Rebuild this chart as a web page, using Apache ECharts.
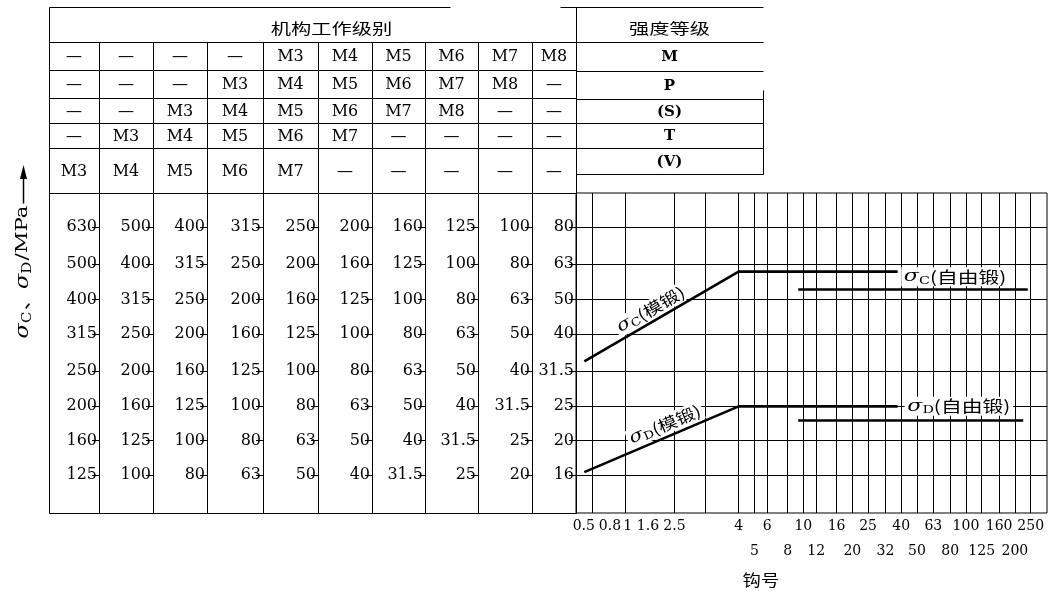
<!DOCTYPE html>
<html>
<head>
<meta charset="utf-8">
<script src="https://cdn.jsdelivr.net/npm/echarts@6.0.0/dist/echarts.min.js"></script>
<style>
html,body{margin:0;padding:0;background:#fff;}
#c{width:1058px;height:591px;}
</style>
</head>
<body>
<div id="c"></div>
<script>
// ================= DATA =================
// Hook numbers (钩号) on the log x axis, upper and lower label rows
const hookRow1 = [0.5, 0.8, 1, 1.6, 2.5, 4, 6, 10, 16, 25, 40, 63, 100, 160, 250];
const hookRow2 = [5, 8, 12, 20, 32, 50, 80, 125, 200];
// Hook numbers that carry a vertical grid line (no line at 1 in the original)
const hookGrid = [0.5, 0.8, 1.6, 2.5, 4, 5, 6, 8, 10, 12, 16, 20, 25, 32, 40, 50, 63, 80, 100, 125, 160, 200, 250];
// Stress levels of the chart rows (right-most scale, MPa)
const stressTicks = [80, 63, 50, 40, 31.5, 25, 20, 16];
// Stress scales of the ten columns (top row -> bottom row)
const col1  = ['630', '500', '400', '315', '250', '200', '160', '125'];
const col2  = ['500', '400', '315', '250', '200', '160', '125', '100'];
const col3  = ['400', '315', '250', '200', '160', '125', '100', '80'];
const col4  = ['315', '250', '200', '160', '125', '100', '80', '63'];
const col5  = ['250', '200', '160', '125', '100', '80', '63', '50'];
const col6  = ['200', '160', '125', '100', '80', '63', '50', '40'];
const col7  = ['160', '125', '100', '80', '63', '50', '40', '31.5'];
const col8  = ['125', '100', '80', '63', '50', '40', '31.5', '25'];
const col9  = ['100', '80', '63', '50', '40', '31.5', '25', '20'];
const col10 = ['80', '63', '50', '40', '31.5', '25', '20', '16'];
// Upper tables
const workHeader = '机构工作级别';
const strengthHeader = '强度等级';
const workRows = [
  ['—', '—', '—', '—', 'M3', 'M4', 'M5', 'M6', 'M7', 'M8'],
  ['—', '—', '—', 'M3', 'M4', 'M5', 'M6', 'M7', 'M8', '—'],
  ['—', '—', 'M3', 'M4', 'M5', 'M6', 'M7', 'M8', '—', '—'],
  ['—', 'M3', 'M4', 'M5', 'M6', 'M7', '—', '—', '—', '—'],
  ['M3', 'M4', 'M5', 'M6', 'M7', '—', '—', '—', '—', '—']
];
const strengthGrades = ['M', 'P', '(S)', 'T', '(V)'];
// Curves [hook number, stress MPa]
const sigmaCDie  = [[0.45, 33.5], [4, 60], [38, 60]];
const sigmaCFree = [[9.3, 53.4], [240, 53.4]];
const sigmaDDie  = [[0.45, 16.3], [4, 25], [38, 25]];
const sigmaDFree = [[9.3, 22.8], [225, 22.8]];
// Curve labels: subscript, name, anchor in data space
const curveNotes = [
  { sub: 'C', name: '(模锻)',   anchor: [1.15, 46.9], along: sigmaCDie },
  { sub: 'D', name: '(模锻)',   anchor: [1.41, 22.2], along: sigmaDDie },
  { sub: 'C', name: '(自由锻)', anchor: [40, 58],     along: null },
  { sub: 'D', name: '(自由锻)', anchor: [42, 25],     along: null }
];
const xTitle = '钩号';

// ================= LAYOUT / STYLE =================
const SERIF = '"DejaVu Serif", "Liberation Serif", serif';
const CJK = '"Noto Sans CJK SC", sans-serif';
const G = { left: 576, right: 1047, top: 193, bottom: 513 };
const colX = [49, 99, 153, 207, 263, 318, 372, 425, 478, 532, 576];
const workRowY = [42, 70, 98, 123, 148, 193];
const strengthRowY = [42, 71, 99, 123, 148, 174];
const tableTop = 7, strengthRight = 763;
const xLabelShift = { '0.5': 8, '0.8': 15, '1': 13, '1.6': 26, '2.5': 31 };

const stressCols = [col1, col2, col3, col4, col5, col6, col7, col8, col9, col10];

function nearestIdx(arr, v) {
  let best = 0, bd = Infinity;
  arr.forEach((a, i) => { const d = Math.abs(Math.log(a) - Math.log(v)); if (d < bd) { bd = d; best = i; } });
  return best;
}

const xRich = { n: { fontSize: 14, fontFamily: SERIF, color: '#000' } };
Object.keys(xLabelShift).forEach((k, i) => {
  xRich['s' + i] = { fontSize: 14, fontFamily: SERIF, color: '#000', padding: [0, 2 * xLabelShift[k], 0, 0] };
});
function xFmt(list) {
  return function (v) {
    const t = String(list[nearestIdx(list, v)]);
    const j = Object.keys(xLabelShift).indexOf(t);
    return j >= 0 ? '{s' + j + '|' + t + '}' : '{n|' + t + '}';
  };
}

const xBase = {
  type: 'log', logBase: 10, min: 0.4, max: 315, position: 'bottom', gridIndex: 0,
  axisLine: { show: false }, axisTick: { show: false },
  splitLine: { show: false }, minorTick: { show: false }, minorSplitLine: { show: false }
};
const xAxes = [
  Object.assign({}, xBase, { axisLabel: { show: true, customValues: hookRow1, margin: 6, formatter: xFmt(hookRow1), rich: xRich, fontSize: 14, fontFamily: SERIF, color: '#000' } }),
  Object.assign({}, xBase, { axisLabel: { show: true, customValues: hookRow2, margin: 31, formatter: xFmt(hookRow2), rich: xRich, fontSize: 14, fontFamily: SERIF, color: '#000' } })
];

const yAxes = stressCols.map((labels, k) => ({
  type: 'log', logBase: 10, min: 12.5, max: 100, position: 'left', gridIndex: 0,
  offset: G.left - colX[k + 1],
  axisLine: { show: true, onZero: false, lineStyle: { color: '#000', width: 1 } },
  axisTick: { show: true, length: 7, customValues: stressTicks, lineStyle: { color: '#000', width: 1 } },
  axisLabel: { show: true, customValues: stressTicks, margin: 2, color: '#000', fontSize: 16, fontFamily: SERIF,
    formatter: v => labels[nearestIdx(stressTicks, v)] },
  splitLine: { show: false }, minorTick: { show: false }, minorSplitLine: { show: false }
}));
const MAINY = stressCols.length - 1;

function curve(data) {
  return { type: 'line', xAxisIndex: 0, yAxisIndex: MAINY, data: data, symbol: 'none', silent: true,
    lineStyle: { color: '#000', width: 2.6 }, z: 5 };
}

const chart = echarts.init(document.getElementById('c'), null, { renderer: 'canvas' });
chart.setOption({
  animation: false,
  backgroundColor: '#fff',
  grid: { left: G.left, right: 1058 - G.right, top: G.top, bottom: 591 - G.bottom,
    show: true, borderColor: '#000', borderWidth: 1, backgroundColor: 'transparent', containLabel: false, outerBoundsMode: 'none' },
  xAxis: xAxes,
  yAxis: yAxes,
  series: [
    { type: 'line', xAxisIndex: 0, yAxisIndex: MAINY, data: [], silent: true, z: 1,
      markLine: { silent: true, symbol: ['none', 'none'], label: { show: false }, animation: false,
        lineStyle: { color: '#000', width: 1, type: 'solid' },
        emphasis: { disabled: true },
        data: hookGrid.map(v => ({ xAxis: v })).concat(stressTicks.map(v => ({ yAxis: v }))) } },
    curve(sigmaCDie), curve(sigmaCFree), curve(sigmaDDie), curve(sigmaDFree)
  ]
});

// ================= graphic: tables, titles, curve labels =================
const els = [];
function ln(x1, y1, x2, y2, w) {
  els.push({ type: 'line', z: 50, silent: true,
    shape: { x1: x1 + 0.5, y1: y1 + 0.5, x2: x2 + 0.5, y2: y2 + 0.5 },
    style: { stroke: '#000', lineWidth: w || 1 } });
}
function txt(x, y, text, font, size, opts, weight) {
  els.push(Object.assign({ type: 'text', x: x, y: y, z: 60, silent: true,
    style: { text: text, fontFamily: font, fontSize: size, fontWeight: weight || 'normal', fill: '#000', align: 'center', verticalAlign: 'middle' } }, opts || {}));
}
// table frame
ln(colX[0], tableTop, 450, tableTop);
ln(560, tableTop, strengthRight, tableTop);
ln(colX[0], tableTop, colX[0], G.bottom);
ln(colX[10], tableTop, colX[10], G.top);
ln(strengthRight, 90, strengthRight, strengthRowY[5]);
ln(colX[0], workRowY[0], strengthRight, workRowY[0]);
for (let r = 1; r < workRowY.length; r++) ln(colX[0], workRowY[r], colX[10], workRowY[r]);
for (let r = 1; r < strengthRowY.length; r++) ln(colX[10], strengthRowY[r], strengthRight, strengthRowY[r]);
for (let c = 1; c < colX.length - 1; c++) ln(colX[c], workRowY[0], colX[c], G.top);
ln(colX[0], G.bottom, G.left, G.bottom);
// table texts
txt((colX[0] + colX[10]) / 2 + 19, 28, workHeader, CJK, 15, { scaleX: 1.35 });
txt((colX[10] + strengthRight) / 2, 28, strengthHeader, CJK, 15, { scaleX: 1.35 });
workRows.forEach((row, r) => {
  const cy = (workRowY[r] + workRowY[r + 1]) / 2 + 1;
  row.forEach((t, c) => txt((colX[c] + colX[c + 1]) / 2, cy, t, SERIF, 16));
});
strengthGrades.forEach((t, r) => {
  txt((colX[10] + strengthRight) / 2, (strengthRowY[r] + strengthRowY[r + 1]) / 2 + 1, t, SERIF, 15, null, 'bold');
});
// y title with arrow
const sigRich = {
  g: { fontFamily: SERIF, fontStyle: 'italic', fontSize: 18, fill: '#000', color: '#000' },
  sub: { fontFamily: SERIF, fontSize: 12, fill: '#000', color: '#000', padding: [9, 1, 0, 0] },
  c: { fontFamily: CJK, fontSize: 17, fill: '#000', color: '#000' },
  r: { fontFamily: SERIF, fontSize: 17, fill: '#000', color: '#000' }
};
els.push({ type: 'text', x: 23, y: 272, rotation: Math.PI / 2, scaleX: 1.25, z: 60, silent: true,
  style: { text: '{g|σ}{sub|C}{c|、}{g|σ}{sub|D}{r|/MPa}', rich: sigRich, align: 'center', verticalAlign: 'middle', fill: '#000' } });
ln(23, 172, 23, 203, 1.5);
els.push({ type: 'polygon', z: 60, silent: true, shape: { points: [[23.5, 165], [20, 179], [27, 179]] }, style: { fill: '#000' } });
// x title
txt(761, 580, xTitle, CJK, 16, { scaleX: 1.15 });
// curve labels
const noteRich = {
  g: { fontFamily: SERIF, fontStyle: 'italic', fontSize: 17, color: '#000', fill: '#000' },
  sub: { fontFamily: SERIF, fontSize: 11, color: '#000', fill: '#000', padding: [8, 0, 0, 0] },
  t: { fontFamily: CJK, fontSize: 16, color: '#000', fill: '#000' }
};
curveNotes.forEach(n => {
  const p = chart.convertToPixel({ xAxisIndex: 0, yAxisIndex: MAINY }, n.anchor);
  let rot = 0, align = 'left';
  if (n.along) {
    const a = chart.convertToPixel({ xAxisIndex: 0, yAxisIndex: MAINY }, n.along[0]);
    const b = chart.convertToPixel({ xAxisIndex: 0, yAxisIndex: MAINY }, n.along[1]);
    rot = Math.atan2(-(b[1] - a[1]), b[0] - a[0]);
    align = 'center';
  }
  els.push({ type: 'text', x: p[0], y: p[1], rotation: rot, scaleX: n.along ? 1.2 : 1.3, z: 70, silent: true,
    style: { text: '{g|σ}{sub|' + n.sub + '}{t|' + n.name + '}', rich: noteRich, align: align, verticalAlign: 'middle',
      backgroundColor: '#fff', padding: [0, 2, 0, 2], fill: '#000' } });
});
chart.setOption({ graphic: { elements: els } });
</script>
</body>
</html>
